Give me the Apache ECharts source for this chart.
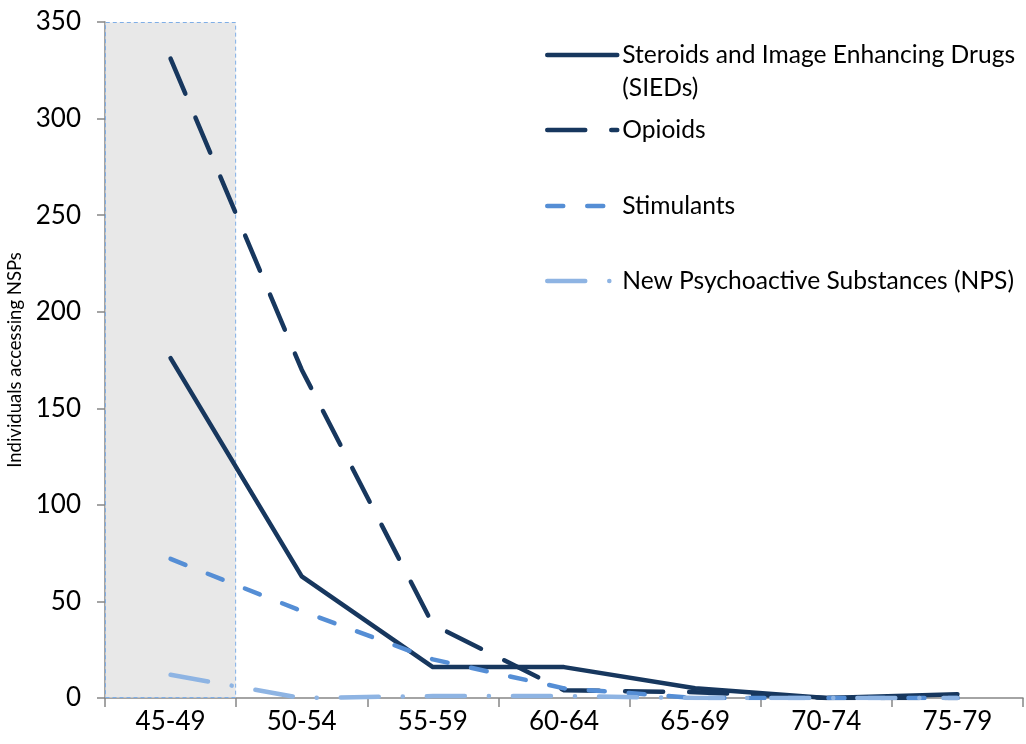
<!DOCTYPE html>
<html><head><meta charset="utf-8">
<script src="https://cdn.jsdelivr.net/npm/echarts@6/dist/echarts.min.js"></script>
<style>html,body{margin:0;padding:0;background:#fff}#c{width:1026px;height:744px}</style>
</head><body><div id="c"></div>
<script>
const categories = ['45-49','50-54','55-59','60-64','65-69','70-74','75-79'];
const sieds = [176, 63, 16, 16, 5, 0, 2];
const opioids = [331, 170, 38, 4, 3, 0, 0];
const stimulants = [72, 45, 20, 5, 0, 0, 0];
const nps = [12, 0, 1, 1, 0, 0, 0];
const shaded = [350, null, null, null, null, null, null];
const names = ['Steroids and Image Enhancing Drugs (SIEDs)','Opioids','Stimulants','New Psychoactive Substances (NPS)'];
const yAxisTitle = 'Individuals accessing NSPs';

const FONT = 'Lato';
const navy = '#17375E', mid = '#558ED5', light = '#8EB4E3';
const LW = 4.5;
const LFS = 24.6;
const legendBase = {
  left: 545, orient: 'horizontal', itemWidth: 70, itemHeight: 14, itemGap: 0, padding: 0,
  selectedMode: false,
  itemStyle: {opacity: 0},
  lineStyle: {width: LW, cap: 'round'},
  textStyle: {fontFamily: FONT, fontSize: LFS, color: '#000'}
};
const chart = echarts.init(document.getElementById('c'), null, {renderer: 'canvas'});
chart.setOption({
  animation: false,
  grid: {left: 105, right: 3, top: 22, bottom: 46, containLabel: false, outerBoundsMode: 'none'},
  legend: [
    Object.assign({}, legendBase, {top: 5.5, data: [names[0]],
      formatter: n => '\n' + n.replace(' (SIEDs)', '\n(SIEDs)'),
      textStyle: {fontFamily: FONT, fontSize: LFS, color: '#000', lineHeight: 33}}),
    Object.assign({}, legendBase, {top: 117.5, data: [names[1]]}),
    Object.assign({}, legendBase, {top: 193.5, data: [names[2]]}),
    Object.assign({}, legendBase, {top: 268.5, data: [names[3]]})
  ],
  xAxis: {
    type: 'category', data: categories, boundaryGap: true,
    axisLine: {lineStyle: {color: '#868686', width: 1.5}},
    axisTick: {show: true, length: 9, lineStyle: {color: '#868686', width: 1.5}},
    axisLabel: {fontFamily: FONT, fontSize: 26, color: '#000', margin: 11},
    splitLine: {show: false}
  },
  yAxis: {
    type: 'value', min: 0, max: 350, interval: 50,
    name: yAxisTitle, nameLocation: 'middle', nameGap: 80, nameRotate: 90,
    nameTextStyle: {fontFamily: FONT, fontSize: 18.5, color: '#000'},
    axisLine: {show: true, lineStyle: {color: '#868686', width: 1.5}},
    axisTick: {show: true, length: 8, lineStyle: {color: '#868686', width: 1.5}},
    axisLabel: {fontFamily: FONT, fontSize: 26, color: '#000', margin: 24},
    splitLine: {show: false}
  },
  series: [
    {type: 'bar', data: shaded, barWidth: '100%', silent: true, legendHoverLink: false,
     itemStyle: {color: '#E8E8E8', borderColor: '#7FAEE6', borderType: [4, 3], borderWidth: 1}},
    {name: names[0], type: 'line', data: sieds, symbol: 'none', z: 3,
     lineStyle: {color: navy, width: LW, cap: 'round', join: 'round'}, itemStyle: {color: navy}},
    {name: names[1], type: 'line', data: opioids, symbol: 'none', z: 4,
     lineStyle: {color: navy, width: LW, type: [38, 26], cap: 'round', join: 'round'}, itemStyle: {color: navy}},
    {name: names[2], type: 'line', data: stimulants, symbol: 'none', z: 5,
     lineStyle: {color: mid, width: LW, type: [16, 24], cap: 'round', join: 'round'}, itemStyle: {color: mid}},
    {name: names[3], type: 'line', data: nps, symbol: 'none', z: 6,
     lineStyle: {color: light, width: LW, type: [38, 24, 0.1, 24], cap: 'round', join: 'round'}, itemStyle: {color: light}}
  ]
});
</script></body></html>
